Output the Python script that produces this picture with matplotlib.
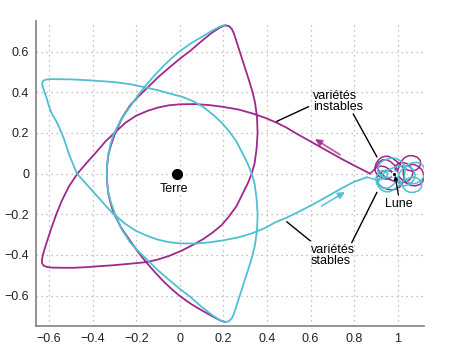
import matplotlib
matplotlib.use("Agg")
import matplotlib.pyplot as plt

plt.rcParams['font.family'] = ['Liberation Sans', 'DejaVu Sans']

MAG = '#a0288a'
CYA = '#4fc0d2'

# unstable manifold (magenta): tangle around the Moon, then the big trefoil
mag_moon_x = [0.985, 1.000, 0.995, 0.985, 0.968, 0.950, 0.930, 0.915, 0.905, 0.910, 0.925, 0.943,
              0.965, 0.990, 1.015, 1.038, 1.055, 1.066, 1.070, 1.065, 1.055, 1.040, 1.020, 1.003,
              0.990, 0.988, 0.995, 1.015, 1.037, 1.060, 1.082, 1.100, 1.114, 1.120, 1.118, 1.110,
              1.095, 1.075, 1.055, 1.040, 1.028, 1.025, 1.027, 1.030, 1.022, 1.010, 0.990, 0.970,
              0.950, 0.930, 0.915, 0.905, 0.903, 0.910, 0.925, 0.945, 0.967, 0.985, 0.998, 1.005,
              1.010, 1.020, 1.033, 1.050, 1.070, 1.090, 1.103, 1.105, 1.098, 1.085, 1.065, 1.045,
              1.025, 1.010, 0.993, 0.975, 0.957, 0.940, 0.923, 0.910, 0.900, 0.895, 0.898, 0.910,
              0.928, 0.945, 0.962, 0.975, 0.975, 0.960, 0.943, 0.925, 0.907, 0.895, 0.885, 0.873]
mag_moon_y = [-0.015, 0.005, 0.025, 0.042, 0.058, 0.068, 0.068, 0.057, 0.040, 0.020, 0.000, -0.017,
              -0.030, -0.040, -0.044, -0.040, -0.030, -0.013, 0.005, 0.023, 0.038, 0.050, 0.055, 0.050,
              0.038, 0.020, 0.000, -0.025, -0.045, -0.058, -0.060, -0.054, -0.040, -0.020, 0.000, 0.020,
              0.035, 0.045, 0.045, 0.037, 0.023, 0.008, -0.010, -0.030, -0.048, -0.065, -0.077, -0.080,
              -0.076, -0.068, -0.055, -0.040, -0.020, -0.003, 0.010, 0.016, 0.013, 0.003, 0.012, 0.030,
              0.048, 0.065, 0.080, 0.088, 0.088, 0.080, 0.065, 0.048, 0.030, 0.018, 0.013, 0.018,
              0.030, 0.045, 0.062, 0.076, 0.085, 0.085, 0.078, 0.065, 0.048, 0.028, 0.008, -0.010,
              -0.022, -0.027, -0.024, -0.012, 0.005, 0.022, 0.033, 0.037, 0.033, 0.024, 0.012, 0.000]
mag_x = [0.873, 0.80, 0.743, 0.68, 0.62, 0.57, 0.53, 0.49, 0.445, 0.39, 0.33, 0.27, 0.20,
         0.135, 0.07, 0.00, -0.05, -0.10, -0.15, -0.20, -0.25, -0.297, -0.34, -0.38, -0.43,
         -0.47, -0.51, -0.541, -0.567, -0.59, -0.607, -0.618, -0.628, -0.633, -0.632, -0.624,
         -0.61, -0.59, -0.54, -0.488, -0.43, -0.366, -0.30, -0.228, -0.151, -0.10, -0.05,
         0.01, 0.07, 0.11, 0.15, 0.19, 0.223, 0.26, 0.29, 0.313, 0.33, 0.343, 0.352, 0.357,
         0.354, 0.345, 0.334, 0.32, 0.305, 0.29, 0.275, 0.26, 0.248, 0.238, 0.225, 0.21,
         0.19, 0.15, 0.10, 0.047, 0.00, -0.05, -0.10, -0.151, -0.19, -0.228, -0.265, -0.297,
         -0.316, -0.327, -0.333, -0.335, -0.333, -0.328, -0.318, -0.305, -0.27, -0.228, -0.19,
         -0.151, -0.11, -0.07, -0.035, 0.00, 0.05, 0.10, 0.15, 0.19, 0.21]
mag_y = [0.000, 0.040, 0.072, 0.110, 0.146, 0.176, 0.200, 0.226, 0.250, 0.275, 0.297, 0.315,
         0.328, 0.337, 0.342, 0.341, 0.336, 0.325, 0.308, 0.285, 0.250, 0.203, 0.160, 0.110,
         0.050, 0.000, -0.065, -0.132, -0.200, -0.270, -0.325, -0.362, -0.398, -0.425, -0.442,
         -0.453, -0.459, -0.462, -0.463, -0.463, -0.460, -0.455, -0.450, -0.443, -0.435,
         -0.422, -0.405, -0.378, -0.345, -0.320, -0.290, -0.255, -0.214, -0.160, -0.095,
         -0.045, 0.000, 0.050, 0.120, 0.200, 0.280, 0.350, 0.400, 0.450, 0.500, 0.550, 0.600,
         0.650, 0.690, 0.712, 0.726, 0.729, 0.722, 0.695, 0.652, 0.603, 0.565, 0.520, 0.474,
         0.420, 0.380, 0.336, 0.275, 0.198, 0.140, 0.097, 0.050, 0.000, -0.050, -0.097,
         -0.145, -0.190, -0.265, -0.330, -0.388, -0.440, -0.490, -0.535, -0.570, -0.602,
         -0.640, -0.672, -0.702, -0.724, -0.730]

# stable manifold (cyan)
cya_moon_x = [0.990, 1.005, 1.000, 0.990, 0.973, 0.955, 0.935, 0.920, 0.910, 0.915, 0.930, 0.950,
              0.975, 1.000, 1.025, 1.048, 1.065, 1.076, 1.080, 1.075, 1.065, 1.050, 1.030, 1.012,
              1.000, 0.995, 1.002, 1.020, 1.042, 1.065, 1.087, 1.105, 1.118, 1.125, 1.122, 1.115,
              1.100, 1.080, 1.060, 1.045, 1.033, 1.030, 1.032, 1.035, 1.027, 1.015, 0.995, 0.975,
              0.955, 0.935, 0.920, 0.910, 0.908, 0.915, 0.930, 0.950, 0.972, 0.990, 1.003, 1.010,
              1.015, 1.025, 1.038, 1.055, 1.075, 1.095, 1.108, 1.110, 1.103, 1.090, 1.070, 1.050,
              1.030, 1.015, 0.998, 0.980, 0.962, 0.945, 0.928, 0.915, 0.905, 0.900, 0.903, 0.915,
              0.930, 0.945, 0.955, 0.950, 0.935, 0.915, 0.895, 0.875, 0.858]
cya_moon_y = [0.015, -0.005, -0.025, -0.043, -0.060, -0.072, -0.072, -0.062, -0.043, -0.022, -0.003, 0.014,
              0.027, 0.036, 0.040, 0.036, 0.026, 0.010, -0.008, -0.026, -0.042, -0.054, -0.060, -0.055,
              -0.042, -0.024, -0.004, 0.020, 0.040, 0.053, 0.055, 0.050, 0.036, 0.016, -0.004, -0.024,
              -0.039, -0.049, -0.049, -0.041, -0.027, -0.012, 0.006, 0.026, 0.045, 0.062, 0.074, 0.077,
              0.073, 0.065, 0.052, 0.036, 0.016, -0.001, -0.014, -0.020, -0.017, -0.007, -0.016, -0.034,
              -0.052, -0.069, -0.084, -0.092, -0.092, -0.084, -0.069, -0.052, -0.034, -0.022, -0.017, -0.022,
              -0.034, -0.049, -0.066, -0.080, -0.089, -0.089, -0.082, -0.069, -0.052, -0.032, -0.012, 0.006,
              0.015, 0.012, 0.000, -0.014, -0.025, -0.030, -0.028, -0.022, -0.018]
cya_x = [0.858, 0.80, 0.743, 0.68, 0.62, 0.57, 0.53, 0.487, 0.437, 0.39, 0.33, 0.27, 0.20,
         0.135, 0.07, 0.00, -0.05, -0.10, -0.15, -0.20, -0.25, -0.305, -0.34, -0.38, -0.43,
         -0.472, -0.505, -0.534, -0.563, -0.59, -0.603, -0.612, -0.622, -0.630, -0.632, -0.625,
         -0.612, -0.59, -0.54, -0.488, -0.40, -0.30, -0.228, -0.15, -0.10, -0.05, 0.01, 0.062,
         0.11, 0.15, 0.19, 0.223, 0.26, 0.29, 0.313, 0.33, 0.343, 0.352, 0.357, 0.354, 0.345,
         0.334, 0.32, 0.305, 0.29, 0.275, 0.26, 0.248, 0.238, 0.225, 0.21, 0.19, 0.15, 0.10,
         0.047, 0.00, -0.05, -0.10, -0.151, -0.19, -0.228, -0.265, -0.297, -0.316, -0.327,
         -0.333, -0.335, -0.333, -0.328, -0.318, -0.305, -0.27, -0.228, -0.19, -0.151, -0.11,
         -0.07, -0.035, 0.00, 0.05, 0.10, 0.15, 0.19, 0.21]
cya_y = [-0.018, -0.040, -0.072, -0.110, -0.146, -0.174, -0.196, -0.218, -0.240, -0.268, -0.294,
         -0.313, -0.328, -0.338, -0.344, -0.343, -0.337, -0.325, -0.306, -0.282, -0.247, -0.198,
         -0.158, -0.110, -0.050, 0.000, 0.085, 0.178, 0.250, 0.300, 0.340, 0.374, 0.405, 0.430,
         0.447, 0.458, 0.463, 0.465, 0.464, 0.463, 0.458, 0.450, 0.440, 0.422, 0.410, 0.395,
         0.378, 0.356, 0.326, 0.292, 0.253, 0.212, 0.158, 0.095, 0.045, 0.000, -0.050, -0.120,
         -0.200, -0.280, -0.350, -0.400, -0.450, -0.500, -0.550, -0.600, -0.650, -0.690,
         -0.712, -0.726, -0.730, -0.724, -0.697, -0.655, -0.605, -0.567, -0.522, -0.476,
         -0.422, -0.382, -0.338, -0.277, -0.200, -0.142, -0.099, -0.052, 0.000, 0.050, 0.097,
         0.145, 0.190, 0.265, 0.330, 0.388, 0.440, 0.490, 0.535, 0.570, 0.602, 0.640, 0.672,
         0.704, 0.726, 0.732]

earth = (-0.014, 0.0)
moon = (0.985, 0.0)
xticks = [-0.6, -0.4, -0.2, 0, 0.2, 0.4, 0.6, 0.8, 1]
yticks = [-0.6, -0.4, -0.2, 0, 0.2, 0.4, 0.6]

fig = plt.figure(figsize=(4.5, 3.64), dpi=100)
ax = fig.add_axes([0.08, 0.104, 0.862, 0.838])

ax.plot(mag_moon_x, mag_moon_y, color=MAG, lw=1.1, zorder=3)
ax.plot(cya_moon_x, cya_moon_y, color=CYA, lw=1.1, zorder=3)
ax.plot(mag_x, mag_y, color=MAG, lw=1.3, zorder=3)
ax.plot(cya_x, cya_y, color=CYA, lw=1.3, zorder=4)

ax.plot(*earth, 'o', color='black', ms=7, zorder=5)
ax.plot(*moon, 'o', color='black', ms=3.5, mec='white', mew=1.2, zorder=6)

ax.text(earth[0] - 0.015, -0.077, 'Terre', ha='center', va='center', fontsize=9)
ax.text(1.003, -0.150, 'Lune', ha='center', va='center', fontsize=9)
ax.annotate('', xy=(0.988, -0.01), xytext=(1.003, -0.105),
            arrowprops=dict(arrowstyle='-|>', color='black', lw=0.9,
                            mutation_scale=6, shrinkA=0, shrinkB=0), zorder=7)

ax.text(0.612, 0.355, 'variétés\ninstables', ha='left', va='center',
        fontsize=9, linespacing=0.95)
ax.plot([0.59, 0.445], [0.329, 0.257], color='black', lw=1.0, zorder=6)
ax.plot([0.796, 0.904], [0.293, 0.083], color='black', lw=1.0, zorder=6)

ax.text(0.600, -0.402, 'variétés\nstables', ha='left', va='center',
        fontsize=9, linespacing=0.95)
ax.plot([0.491, 0.598], [-0.237, -0.33], color='black', lw=1.0, zorder=6)
ax.plot([0.789, 0.904], [-0.339, -0.093], color='black', lw=1.0, zorder=6)

ax.annotate('', xy=(0.62, 0.17), xytext=(0.735, 0.093),
            arrowprops=dict(arrowstyle='-|>', color=MAG, lw=1.3, alpha=0.75,
                            mutation_scale=10, shrinkA=0, shrinkB=0))
ax.annotate('', xy=(0.758, -0.09), xytext=(0.651, -0.159),
            arrowprops=dict(arrowstyle='-|>', color=CYA, lw=1.3, alpha=0.85,
                            mutation_scale=10, shrinkA=0, shrinkB=0))

ax.set_xlim(-0.66, 1.12)
ax.set_ylim(-0.75, 0.75)
ax.set_xticks(xticks)
ax.set_yticks(yticks)
ax.set_xticklabels(['\u22120.6', '\u22120.4', '\u22120.2', '0', '0.2', '0.4', '0.6', '0.8', '1'])
ax.set_yticklabels(['\u22120.6', '\u22120.4', '\u22120.2', '0', '0.2', '0.4', '0.6'])
ax.grid(True, linestyle=(0, (1, 3)), color='#b0b0b0', lw=0.9)
ax.set_axisbelow(True)
for s in ['top', 'right']:
    ax.spines[s].set_visible(False)
for s in ['left', 'bottom']:
    ax.spines[s].set_color('#808080')
    ax.spines[s].set_linewidth(1.2)
ax.tick_params(length=0, labelsize=9, pad=5, colors='#222222')

fig.savefig('out.png', dpi=100)
